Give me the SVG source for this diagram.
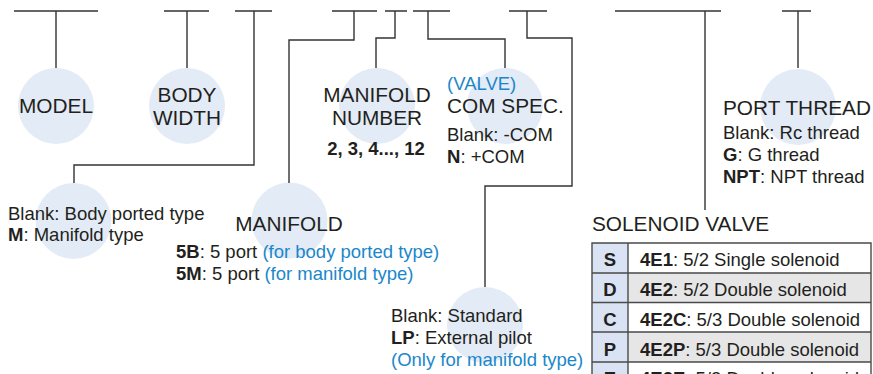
<svg xmlns="http://www.w3.org/2000/svg" width="873" height="374" viewBox="0 0 873 374">
<style>
text{font-family:"Liberation Sans",Arial,sans-serif;fill:#231f20}
.t{font-size:20.8px}
.s{font-size:18.5px}
.b{font-weight:bold}
.blue{fill:#1b87c9}
.mid{text-anchor:middle}
.bub{fill:#e3ebf6}
.ln{fill:none;stroke:#333;stroke-width:1.4}
.cell{stroke:#4a4a4a;stroke-width:1.4}
</style>
<rect width="873" height="374" fill="#fff"/>
<g id="bubbles">
<circle class="bub" cx="56" cy="106" r="38"/>
<circle class="bub" cx="187" cy="106" r="38"/>
<circle class="bub" cx="377" cy="106" r="38"/>
<circle class="bub" cx="505" cy="106" r="38"/>
<circle class="bub" cx="798" cy="107" r="38"/>
<circle class="bub" cx="73.5" cy="221" r="38"/>
<circle class="bub" cx="289.5" cy="220.5" r="38"/>
<circle class="bub" cx="485" cy="325" r="38"/>
</g>
<g id="connectors" class="ln">
<path d="M14,11H98M56,11V68"/>
<path d="M164,11H209M187,11V68"/>
<path d="M235,11H272M254,11V165H74V183"/>
<path d="M332,11H377M354,11V40H289V183"/>
<path d="M385,11H407M395,11V38H376V68"/>
<path d="M413,11H450M428,11V39H505V68"/>
<path d="M509,11H547M527,11V38H572V186H485V287"/>
<path d="M615,11H721M705,11V210"/>
<path d="M782,11H811M798,11V68"/>
</g>
<g id="model">
<text class="t mid" x="56" y="113">MODEL</text>
</g>
<g id="body-width">
<text class="t mid" x="187" y="102">BODY</text>
<text class="t mid" x="187" y="125">WIDTH</text>
</g>
<g id="mounting">
<text class="s" x="8" y="219.5">Blank: Body ported type</text>
<text class="s" x="8" y="241"><tspan class="b">M</tspan>: Manifold type</text>
</g>
<g id="manifold">
<text class="t mid" x="289" y="231">MANIFOLD</text>
<text class="s" x="176" y="258"><tspan class="b">5B</tspan>: 5 port <tspan class="blue">(for body ported type)</tspan></text>
<text class="s" x="176" y="280"><tspan class="b">5M</tspan>: 5 port <tspan class="blue">(for manifold type)</tspan></text>
</g>
<g id="manifold-number">
<text class="t mid" x="377" y="102">MANIFOLD</text>
<text class="t mid" x="377" y="125">NUMBER</text>
<text class="s b mid" x="376" y="155">2, 3, 4..., 12</text>
</g>
<g id="com-spec">
<text class="s blue" x="447" y="89.5">(VALVE)</text>
<text class="t" x="447" y="113">COM SPEC.</text>
<text class="s" x="447" y="141">Blank: -COM</text>
<text class="s" x="447" y="163"><tspan class="b">N</tspan>: +COM</text>
</g>
<g id="pilot">
<text class="s" x="391" y="321.5">Blank: Standard</text>
<text class="s" x="391" y="344"><tspan class="b">LP</tspan>: External pilot</text>
<text class="s blue" x="391" y="366">(Only for manifold type)</text>
</g>
<g id="solenoid-valve">
<text class="t" x="592" y="231">SOLENOID VALVE</text>
<rect x="592" y="243" width="36" height="140" fill="#dae3f3"/>
<rect x="628" y="243" width="243" height="30" fill="#fff"/>
<rect x="628" y="273" width="243" height="29.5" fill="#e6e6e6"/>
<rect x="628" y="302.5" width="243" height="29.5" fill="#fff"/>
<rect x="628" y="332" width="243" height="30" fill="#e6e6e6"/>
<rect x="628" y="362" width="243" height="21" fill="#fff"/>
<path class="cell" fill="none" d="M592,383V243H871V383M628,243V383M592,273H871M592,302.5H871M592,332H871M592,362H871"/>
<text class="s b mid" x="610" y="266">S</text>
<text class="s" x="640" y="266"><tspan class="b">4E1</tspan>: 5/2 Single solenoid</text>
<text class="s b mid" x="610" y="296">D</text>
<text class="s" x="640" y="296"><tspan class="b">4E2</tspan>: 5/2 Double solenoid</text>
<text class="s b mid" x="610" y="326">C</text>
<text class="s" x="640" y="326"><tspan class="b">4E2C</tspan>: 5/3 Double solenoid</text>
<text class="s b mid" x="610" y="356">P</text>
<text class="s" x="640" y="356"><tspan class="b">4E2P</tspan>: 5/3 Double solenoid</text>
<text class="s b mid" x="610" y="385">E</text>
<text class="s" x="640" y="385"><tspan class="b">4E2E</tspan>: 5/3 Double solenoid</text>
</g>
<g id="port-thread">
<text class="t" x="723" y="115">PORT THREAD</text>
<text class="s" x="723" y="138.5">Blank: Rc thread</text>
<text class="s" x="723" y="160.5"><tspan class="b">G</tspan>: G thread</text>
<text class="s" x="723" y="182.5"><tspan class="b">NPT</tspan>: NPT thread</text>
</g>
</svg>
